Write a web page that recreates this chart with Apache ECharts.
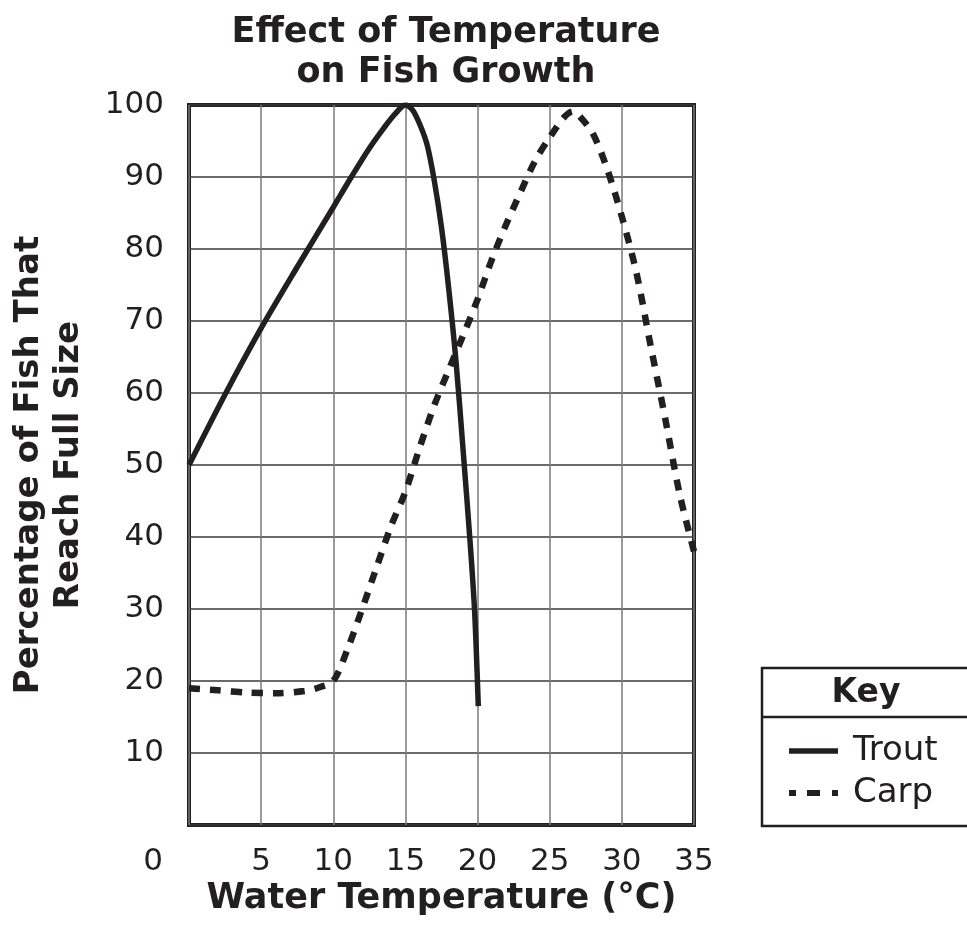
<!DOCTYPE html>
<html>
<head>
<meta charset="utf-8">
<script src="https://cdn.jsdelivr.net/npm/echarts@6/dist/echarts.min.js"></script>
<style>
html,body{margin:0;padding:0;background:#fff;}
#chart{width:967px;height:928px;}
</style>
</head>
<body>
<div id="chart"></div>
<script>
// Data
const troutTemp = [0, 2.5, 5, 7.5, 10, 11.25, 12.5, 13.5, 14.3, 15, 15.5, 16, 16.5, 17, 17.5, 18, 18.5, 19, 19.5, 19.8, 20.05];
const troutPct  = [50, 59.8, 69, 77.5, 85.8, 90, 94, 96.8, 98.8, 100, 99.3, 97.3, 94.5, 89.5, 83, 74.5, 64.5, 52, 38.8, 29.5, 16.5];

const carpTemp = [0, 2, 4, 6, 8, 9, 10, 11, 12, 13, 14, 15, 16, 17, 18, 19, 20, 21, 22, 23, 24, 25, 26, 26.6, 27, 28, 29, 30, 31, 32, 33, 34, 35];
const carpPct  = [19, 18.7, 18.4, 18.3, 18.6, 19.1, 20, 24.5, 30, 35.8, 41.5, 46.3, 52.5, 58.3, 63.2, 68, 73, 78.6, 83.5, 88, 92.3, 95.5, 98.3, 99.1, 98.6, 96, 91, 84.5, 76.8, 66.5, 56.5, 46, 38];

const xTicks = [0, 5, 10, 15, 20, 25, 30, 35];
const yTicks = [0, 10, 20, 30, 40, 50, 60, 70, 80, 90, 100];

const titleText = 'Effect of Temperature\non Fish Growth';
const xName = 'Water Temperature (°C)';
const yName = 'Percentage of Fish That\nReach Full Size';
const seriesNames = ['Trout', 'Carp'];
const keyTitle = 'Key';

const INK = '#231f20';
const FONT = 'DejaVu Sans';

const chart = echarts.init(document.getElementById('chart'), null, {renderer: 'canvas'});
chart.setOption({
  backgroundColor: '#fff',
  animation: false,
  title: {
    text: titleText,
    left: 441,
    top: 8,
    textAlign: 'center',
    textStyle: {fontFamily: FONT, fontWeight: 'bold', fontSize: 35, lineHeight: 40, color: INK}
  },
  grid: {
    left: 189, right: 273, top: 105, bottom: 103,
    show: true, borderColor: INK, borderWidth: 4, backgroundColor: 'transparent'
  },
  xAxis: {
    type: 'value', min: xTicks[0], max: xTicks[xTicks.length - 1], interval: 5,
    name: xName, nameLocation: 'middle', nameGap: 56,
    nameTextStyle: {fontFamily: FONT, fontWeight: 'bold', fontSize: 35, color: INK},
    axisLine: {show: false}, axisTick: {show: false},
    axisLabel: {
      fontFamily: FONT, fontSize: 31, color: INK, margin: 21,
      formatter: v => v === 0 ? '{z|0}' : String(v),
      rich: {z: {fontFamily: FONT, fontSize: 31, color: INK, padding: [0, 72, 0, 0]}}
    },
    splitLine: {show: true, lineStyle: {color: '#7a7a7a', width: 1.5}}
  },
  yAxis: {
    type: 'value', min: yTicks[0], max: yTicks[yTicks.length - 1], interval: 10,
    name: yName, nameLocation: 'middle', nameGap: 100, nameRotate: 90,
    nameTextStyle: {fontFamily: FONT, fontWeight: 'bold', fontSize: 34, lineHeight: 40, color: INK},
    axisLine: {show: false}, axisTick: {show: false},
    axisLabel: {
      fontFamily: FONT, fontSize: 31, color: INK, margin: 25,
      formatter: v => v === 0 ? '' : String(v)
    },
    splitLine: {show: true, lineStyle: {color: '#3a3a3a', width: 1.5}}
  },
  legend: {
    data: [
      {name: seriesNames[0], lineStyle: {width: 5.5, type: 'solid'}, itemStyle: {opacity: 0}},
      {name: seriesNames[1], lineStyle: {width: 6, type: [7, 11, 13, 12, 6]}, itemStyle: {opacity: 0}}
    ],
    orient: 'vertical',
    left: 781, top: 729,
    itemWidth: 49, itemHeight: 14, itemGap: 8,
    textStyle: {fontFamily: FONT, fontSize: 34, color: INK, padding: [0, 0, 0, 10]},
    z: 10
  },
  graphic: [
    {type: 'rect', z: 1, shape: {x: 762, y: 668, width: 230, height: 158},
     style: {fill: '#fff', stroke: INK, lineWidth: 2.5}},
    {type: 'line', z: 2, shape: {x1: 762, y1: 717, x2: 967, y2: 717},
     style: {stroke: INK, lineWidth: 2.5}},
    {type: 'text', z: 2, x: 866, y: 693,
     style: {text: keyTitle, fontFamily: FONT, fontWeight: 'bold', fontSize: 33, fill: INK,
             textAlign: 'center', textVerticalAlign: 'middle'}}
  ],
  series: [
    {
      name: seriesNames[0], type: 'line', symbol: 'none',
      smooth: 0.3,
      data: troutTemp.map((t, i) => [t, troutPct[i]]),
      lineStyle: {color: INK, width: 5.5, type: 'solid'},
      itemStyle: {color: INK}
    },
    {
      name: seriesNames[1], type: 'line', symbol: 'none',
      smooth: 0.3,
      data: carpTemp.map((t, i) => [t, carpPct[i]]),
      lineStyle: {color: INK, width: 6.5, type: [11, 10]},
      itemStyle: {color: INK}
    }
  ]
});
</script>
</body>
</html>
